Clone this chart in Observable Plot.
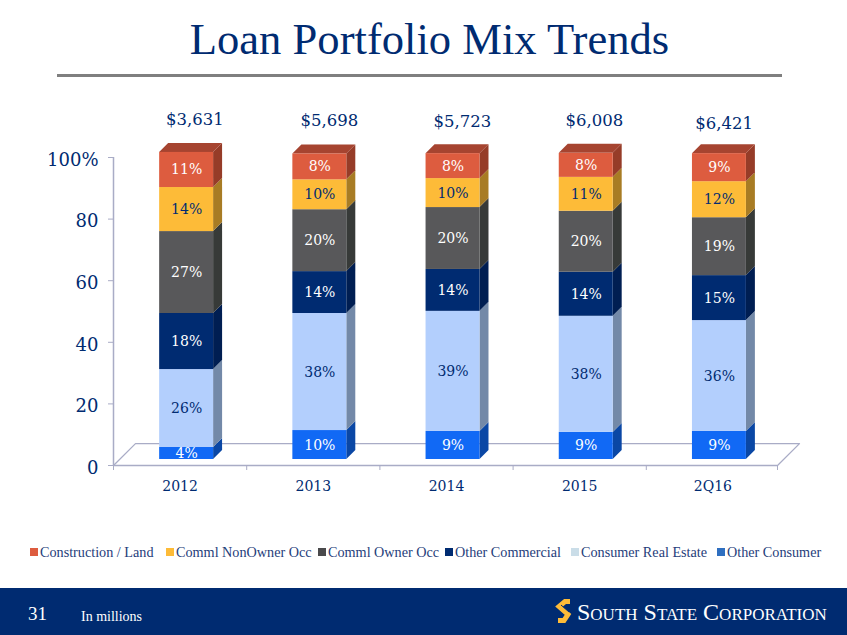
<!DOCTYPE html>
<html><head><meta charset="utf-8">
<script src="https://cdn.jsdelivr.net/npm/d3@7"></script>
<script src="https://cdn.jsdelivr.net/npm/@observablehq/plot@0.6"></script>
<style>
html,body{margin:0;padding:0;background:#fff;width:847px;height:635px;overflow:hidden;font-family:"Liberation Serif",serif;color:#002B71}
#head{height:100px;position:relative}
#head h1{margin:0;position:absolute;left:0;width:859px;top:14px;text-align:center;font-weight:400;font-size:44.6px;line-height:50px;color:#002B71}
#head hr{position:absolute;left:57px;width:725px;top:74px;margin:0;border:0;height:3px;background:#7f7f7f}
#chart{height:420px}
#chart svg{display:block;overflow:visible}
#legend{height:68px;position:relative;font-size:14.2px;color:#1f3d7a}
#legend span{position:absolute;top:24px;line-height:16px;white-space:nowrap}
#legend i{position:absolute;top:28px;width:8px;height:8px}
#foot{height:47px;background:#002B71;position:relative;color:#fff}
#foot span{position:absolute;white-space:nowrap}
#foot svg{position:absolute;left:555px;top:10px}
</style></head><body>
<div id="head"><h1>Loan Portfolio Mix Trends</h1><hr></div>
<div id="chart"></div>
<div id="legend"></div>
<div id="foot">
<svg width="18" height="26" viewBox="0 0 18 26"><path fill="none" stroke="#FDBB38" stroke-width="5" d="M15 3.5H10L4 8.5L13 16.5L9 22.5H3"/><path fill="none" stroke="#002B71" stroke-width="1" d="M6 7L14 14"/></svg>
<span style="left:28px;top:14px;font-size:19px;line-height:24px">31</span>
<span style="left:81px;top:21px;font-size:14px;line-height:16px">In millions</span>
<span style="left:577px;top:10px;font-size:24px;line-height:28px;font-variant:small-caps;letter-spacing:0px">South State Corporation</span>
</div>
<script>
const periods = ["2012","2013","2014","2015","2Q16"];
const totals = ["$3,631","$5,698","$5,723","$6,008","$6,421"];
const totalHeights = [112.2,111.9,111.5,111.9,110.9];
const totalOffsets = [0.11,0.12,0.12,0.11,0.085];
const seriesNames = ["Other Consumer","Consumer Real Estate","Other Commercial","Comml Owner Occ","Comml NonOwner Occ","Construction / Land"];
const otherConsumer = [3.9,9.4,9.1,8.8,9.1];
const consumerRealEstate = [25.3,38.0,39.0,37.7,36.0];
const otherCommercial = [18.2,13.6,13.6,14.3,14.6];
const commlOwnerOcc = [26.6,20.1,20.1,19.8,18.8];
const commlNonOwnerOcc = [14.3,9.7,9.4,11.0,11.7];
const constructionLand = [11.4,8.4,8.1,7.8,9.1];
const labelOtherConsumer = ["4%","10%","9%","9%","9%"];
const labelConsumerRealEstate = ["26%","38%","39%","38%","36%"];
const labelOtherCommercial = ["18%","14%","14%","14%","15%"];
const labelCommlOwnerOcc = ["27%","20%","20%","20%","19%"];
const labelCommlNonOwnerOcc = ["14%","10%","10%","11%","12%"];
const labelConstructionLand = ["11%","8%","8%","8%","9%"];
const frontColors = ["#1169F5","#B3CFFD","#002B71","#58585A","#FDBB38","#DD5C3F"];
const sideColors = ["#0A47A5","#7389A8","#001E52","#373A38","#A87C24","#963C28"];
const topColor = "#A64430";
const labelColors = ["#fff","#002B71","#fff","#fff","#002B71","#fff"];
const legendOrder = ["Construction / Land","Comml NonOwner Occ","Comml Owner Occ","Other Commercial","Consumer Real Estate","Other Consumer"];
const legendColors = ["#DD5C3F","#FDBB38","#4A4A4C","#002B71","#CADDE8","#2F6FC0"];
const legendLefts = [30,166,318,445,571,717];

const seriesValues = [otherConsumer,consumerRealEstate,otherCommercial,commlOwnerOcc,commlNonOwnerOcc,constructionLand];
const seriesLabels = [labelOtherConsumer,labelConsumerRealEstate,labelOtherCommercial,labelCommlOwnerOcc,labelCommlNonOwnerOcc,labelConstructionLand];

// 3-D look, expressed in data units
const barShiftX = 0.049, barShiftY = 1.95, halfBar = 0.2025, depthX = 0.0675, depthY = 2.92;
const floorX = 0.165, floorY = 7.1, floorEnd = 4.485;

const segs = [];
periods.forEach((p,i)=>{
  let base = 0;
  seriesNames.forEach((s,k)=>{
    const v = seriesValues[k][i];
    segs.push({i,k,p,s,y1:base+barShiftY,y2:base+v+barShiftY,label:seriesLabels[k][i],cx:i+barShiftX,x1:i+barShiftX-halfBar,x2:i+barShiftX+halfBar});
    base += v;
  });
});
const sides = segs.flatMap(d=>[
  {id:d.i+"-"+d.k,k:d.k,x:d.x2,y1:d.y1,y2:d.y2},
  {id:d.i+"-"+d.k,k:d.k,x:d.x2+depthX,y1:d.y1+depthY,y2:d.y2+depthY}
]);
const tops = segs.filter(d=>d.k===5).flatMap(d=>[
  {id:d.i,y:d.y2,x1:d.x1,x2:d.x2},
  {id:d.i,y:d.y2+depthY,x1:d.x1+depthX,x2:d.x2+depthX}
]);
const axisColor = "#A9ACC6";
const yTicks = [0,20,40,60,80,100];
const xEdges = [-0.5,0.5,1.5,2.5,3.5,floorEnd];
const font = "DejaVu Serif";

const plot = Plot.plot({
  width:847,height:420,marginLeft:113,marginRight:68,marginTop:57,marginBottom:55,
  style:{fontFamily:font,background:"transparent",overflow:"visible"},
  x:{type:"linear",domain:[-0.5,4.5],axis:null},
  y:{domain:[0,100],axis:null},
  marks:[
    Plot.line([{x:-0.5,y:0},{x:-0.5+floorX,y:floorY},{x:floorEnd+floorX,y:floorY},{x:floorEnd,y:0}],{x:"x",y:"y",stroke:axisColor,strokeWidth:1.3}),
    Plot.ruleX([-0.5],{y1:0,y2:100,stroke:axisColor,strokeWidth:1.5}),
    Plot.ruleY([0],{x1:-0.5,x2:floorEnd,stroke:axisColor,strokeWidth:1.5}),
    Plot.axisY(yTicks,{anchor:"left",tickSize:5,stroke:axisColor,tickPadding:10,fontSize:18,fill:"#002B71",label:null,tickFormat:d=>d===100?"100%":String(d)}),
    Plot.axisX(xEdges,{anchor:"bottom",tickSize:5,stroke:axisColor,tickFormat:()=>"",label:null}),
    Plot.text(periods,{x:(d,i)=>i,y:0,dy:21,text:d=>d,fontSize:14,fill:"#002B71"}),
    Plot.areaY(sides,{x:"x",y1:"y1",y2:"y2",z:"id",fill:d=>sideColors[d.k]}),
    Plot.areaX(tops,{y:"y",x1:"x1",x2:"x2",z:"id",fill:topColor}),
    Plot.rect(segs,{x1:"x1",x2:"x2",y1:"y1",y2:"y2",fill:d=>frontColors[d.k]}),
    Plot.text(segs,{x:"cx",y:d=>(d.y1+d.y2)/2,text:"label",fill:d=>labelColors[d.k],fontSize:14}),
    Plot.text(totals,{x:(d,i)=>i+totalOffsets[i],y:(d,i)=>totalHeights[i],text:d=>d,fontSize:16.5,fill:"#002B71"})
  ]
});
plot.querySelectorAll('g[aria-label="y-axis tick label"] text').forEach(t=>t.setAttribute("dy","0.14em"));
document.getElementById("chart").append(plot);
const legend = document.getElementById("legend");
legendOrder.forEach((n,i)=>{
  const sw = document.createElement("i"); sw.style.left = legendLefts[i]+"px"; sw.style.background = legendColors[i];
  const t = document.createElement("span"); t.style.left = (legendLefts[i]+10)+"px"; t.textContent = n;
  legend.append(sw,t);
});
</script>
</body></html>
